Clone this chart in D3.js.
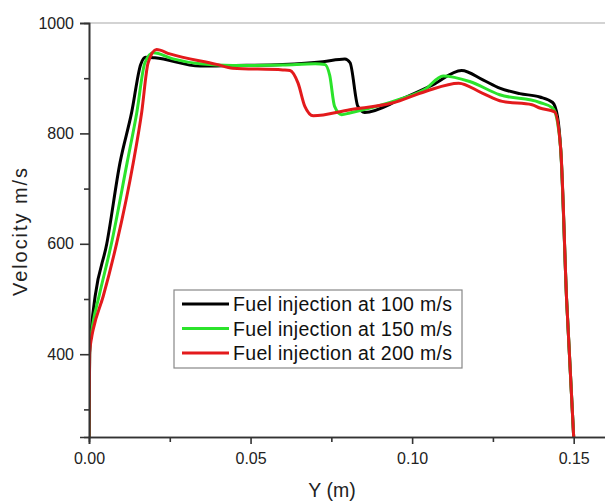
<!DOCTYPE html>
<html>
<head>
<meta charset="utf-8">
<script src="https://cdn.jsdelivr.net/npm/d3@7"></script>
<style>
  body { margin: 0; background: #fff; }
  svg { display: block; font-family: "Liberation Sans", Arial, sans-serif; }
</style>
</head>
<body>
<svg id="chart" width="605" height="503"></svg>
<script>
// Data: Y (m) against velocity (m/s)
const v100 = [
  [0.0000, 250], [0.0002, 400], [0.0008, 450], [0.0019, 505], [0.0055, 600],
  [0.0096, 747], [0.0132, 838], [0.0160, 925], [0.0175, 938], [0.0204, 937],
  [0.0343, 922], [0.0445, 923], [0.0600, 925], [0.0724, 930], [0.0792, 935],
  [0.0808, 928], [0.0832, 849], [0.0853, 838], [0.0962, 861], [0.1064, 888],
  [0.1153, 914], [0.1219, 897], [0.1271, 882], [0.1333, 872], [0.1395, 866],
  [0.1435, 856], [0.1450, 830], [0.1460, 770], [0.1478, 500], [0.1500, 250]
]
const v150 = [
  [0.0000, 250], [0.0002, 410], [0.0012, 455], [0.0031, 505], [0.0070, 602],
  [0.0118, 747], [0.0148, 838], [0.0173, 928], [0.0199, 946], [0.0260, 935],
  [0.0343, 926], [0.0445, 923], [0.0600, 924], [0.0700, 926], [0.0730, 925],
  [0.0745, 905], [0.0760, 849], [0.0782, 834], [0.0807, 837], [0.0962, 862],
  [0.1040, 880], [0.1096, 904], [0.1178, 894], [0.1271, 870], [0.1395, 856],
  [0.1435, 846], [0.1450, 820], [0.1460, 770], [0.1478, 500], [0.1500, 250]
]
const v200 = [
  [0.0000, 250], [0.0002, 403], [0.0008, 430], [0.0013, 445], [0.0044, 505],
  [0.0086, 602], [0.0137, 747], [0.0163, 838], [0.0183, 928], [0.0209, 952],
  [0.0250, 944], [0.0395, 925], [0.0445, 918], [0.0600, 915], [0.0622, 914],
  [0.0647, 891], [0.0668, 849], [0.0694, 832], [0.0807, 843], [0.0938, 855],
  [0.1041, 876], [0.1144, 891], [0.1217, 873], [0.1279, 858], [0.1371, 852],
  [0.1395, 846], [0.1441, 839], [0.1460, 770], [0.1478, 500], [0.1500, 250]
]

const seriesNames = ['Fuel injection at 100 m/s', 'Fuel injection at 150 m/s', 'Fuel injection at 200 m/s']
const seriesColors = ['#000000', '#2be32b', '#e31a1c']
const seriesData = [v100, v150, v200]

const xTicks = [0, 0.05, 0.10, 0.15]
const xMinorTicks = [0.025, 0.075, 0.125]
const yTicks = [400, 600, 800, 1000]
const yMinorTicks = [300, 500, 700, 900]

const width = 605
const height = 503
const margin = { top: 23, right: -1, bottom: 66, left: 89 }
const innerW = width - margin.left - margin.right
const innerH = height - margin.top - margin.bottom

const svg = d3.select('#chart')

const x = d3.scaleLinear().domain([0, 0.16]).range([0, innerW])
const y = d3.scaleLinear().domain([250, 1000]).range([innerH, 0])

const g = svg.append('g').attr('transform', `translate(${margin.left},${margin.top})`)

g.append('clipPath').attr('id', 'plot-clip')
  .append('rect').attr('width', innerW).attr('height', innerH)

// top frame line
g.append('line')
  .attr('x1', 0).attr('x2', innerW)
  .attr('y1', 0).attr('y2', 0)
  .attr('stroke', '#a8a8a8').attr('stroke-width', 1.2)

// curves
const line = d3.line()
  .x(d => x(d[0]))
  .y(d => y(d[1]))
  .curve(d3.curveMonotoneX)

g.append('g').attr('clip-path', 'url(#plot-clip)')
  .selectAll('path')
  .data(seriesData)
  .join('path')
  .attr('fill', 'none')
  .attr('stroke', (d, i) => seriesColors[i])
  .attr('stroke-width', 3)
  .attr('stroke-linejoin', 'round')
  .attr('d', line)

// axes
function styleAxis(sel) {
  sel.select('.domain').attr('stroke', '#333').attr('stroke-width', 1.6)
  sel.selectAll('.tick line').attr('stroke', '#333').attr('stroke-width', 1.6)
  sel.selectAll('.tick text').attr('fill', '#222').style('font-size', '16px')
}

g.append('g')
  .attr('transform', `translate(0,${innerH})`)
  .call(d3.axisBottom(x).tickValues(xMinorTicks).tickSize(5).tickFormat(''))
  .call(styleAxis)

g.append('g')
  .attr('transform', `translate(0,${innerH})`)
  .call(d3.axisBottom(x).tickValues(xTicks).tickSize(7).tickPadding(9).tickFormat(d3.format('.2f')))
  .call(styleAxis)

g.append('g')
  .call(d3.axisLeft(y).tickValues(yMinorTicks).tickSize(5).tickFormat(''))
  .call(styleAxis)

g.append('g')
  .call(d3.axisLeft(y).tickValues(yTicks).tickSize(9).tickPadding(6).tickFormat(d3.format('d')))
  .call(styleAxis)

// axis titles
svg.append('text')
  .attr('x', 332).attr('y', 497)
  .attr('text-anchor', 'middle')
  .attr('fill', '#222')
  .style('font-size', '19.5px')
  .text('Y (m)')

svg.append('text')
  .attr('transform', `translate(27,${232}) rotate(-90)`)
  .attr('text-anchor', 'middle')
  .attr('fill', '#222')
  .style('font-size', '20px')
  .attr('textLength', 128)
  .text('Velocity m/s')

// legend
const legend = svg.append('g').attr('transform', 'translate(174,290)')
legend.append('rect')
  .attr('width', 288).attr('height', 78)
  .attr('fill', '#fff')
  .attr('stroke', '#888').attr('stroke-width', 1.2)

const items = legend.selectAll('g.item')
  .data(seriesNames)
  .join('g')
  .attr('class', 'item')
  .attr('transform', (d, i) => `translate(0,${14 + i * 24.5})`)

items.append('line')
  .attr('x1', 8).attr('x2', 55)
  .attr('stroke', (d, i) => seriesColors[i])
  .attr('stroke-width', 3)

items.append('text')
  .attr('x', 59).attr('y', 7)
  .attr('fill', '#111')
  .style('font-size', '19.5px')
  .attr('textLength', 219)
  .attr('lengthAdjust', 'spacing')
  .text(d => d)
</script>
</body>
</html>
